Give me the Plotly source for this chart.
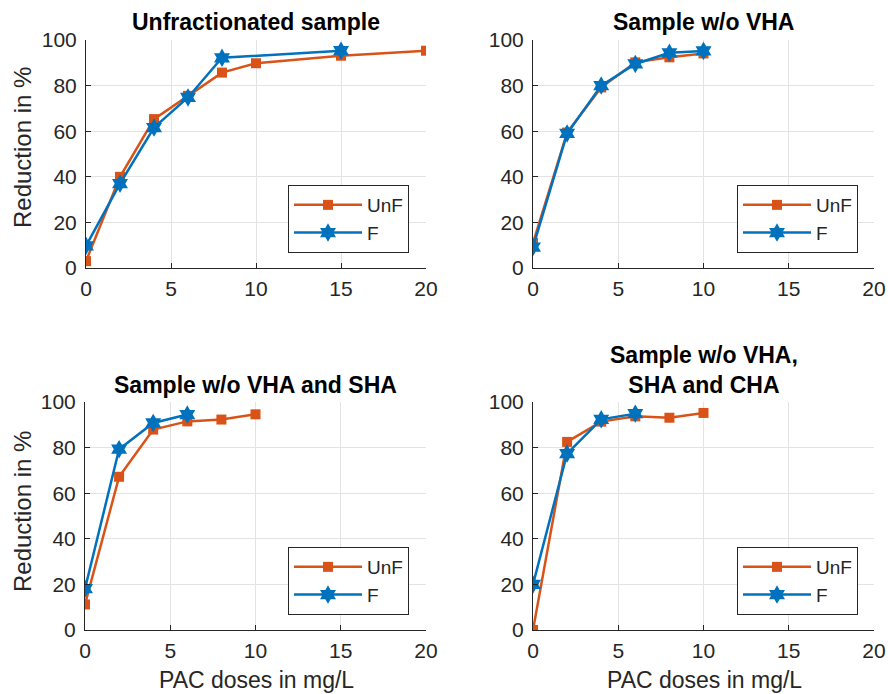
import plotly.graph_objects as go

# ---- data ----
titles = ["Unfractionated sample", "Sample w/o VHA",
          "Sample w/o VHA and SHA", "Sample w/o VHA,<br>SHA and CHA"]

p1_unf_x = [0, 2, 4, 6, 8, 10, 15, 20]
p1_unf_y = [3, 40, 65.3, 75.5, 85.7, 89.8, 93.1, 95.3]
p1_f_x = [0, 2, 4, 6, 8, 15]
p1_f_y = [9.7, 37, 61.6, 74.8, 92.2, 95.3]

p2_unf_x = [0, 2, 4, 6, 8, 10]
p2_unf_y = [11, 59.4, 79.2, 90.2, 92.4, 94.1]
p2_f_x = [0, 2, 4, 6, 8, 10]
p2_f_y = [9.2, 59, 80, 89.5, 94.4, 95.2]

p3_unf_x = [0, 2, 4, 6, 8, 10]
p3_unf_y = [11.2, 67.2, 87.9, 91.5, 92.3, 94.6]
p3_f_x = [0, 2, 4, 6]
p3_f_y = [18.1, 79.3, 90.8, 94.5]

p4_unf_x = [0, 2, 4, 6, 8, 10]
p4_unf_y = [0, 82.5, 91.4, 93.7, 93.1, 95.2]
p4_f_x = [0, 2, 4, 6]
p4_f_y = [20, 77.4, 92.4, 94.9]

x_ticks = [0, 5, 10, 15, 20]
y_ticks = [0, 20, 40, 60, 80, 100]

panels = [
    (p1_unf_x, p1_unf_y, p1_f_x, p1_f_y),
    (p2_unf_x, p2_unf_y, p2_f_x, p2_f_y),
    (p3_unf_x, p3_unf_y, p3_f_x, p3_f_y),
    (p4_unf_x, p4_unf_y, p4_f_x, p4_f_y),
]

ORANGE = "#D95319"
BLUE = "#0072BD"
DARK = "#262626"
GRID = "#e3e3e3"
FONT = "Liberation Sans, Arial, sans-serif"

W, H = 888, 694
# plot areas in pixels (left, right, top, bottom)
boxes = [(86, 426, 40, 268), (533, 874, 40, 268),
         (85, 426, 402, 630), (533, 874, 402, 630)]
legend_boxes = [(409, 253), (858, 253), (409, 615), (858, 615)]

fig = go.Figure()
layout = dict(width=W, height=H, margin=dict(l=0, r=0, t=0, b=0, autoexpand=False),
              paper_bgcolor="white", plot_bgcolor="white",
              font=dict(family=FONT, color=DARK), annotations=[])

for i, (ux, uy, fx, fy) in enumerate(panels):
    n = "" if i == 0 else str(i + 1)
    lg = "legend" + n
    fig.add_trace(go.Scatter(x=ux, y=uy, name="UnF", mode="lines+markers",
                             line=dict(color=ORANGE, width=2.5),
                             marker=dict(symbol="square", size=10, color=ORANGE),
                             xaxis="x" + n, yaxis="y" + n, legend=lg))
    fig.add_trace(go.Scatter(x=fx, y=fy, name="F", mode="lines+markers",
                             line=dict(color=BLUE, width=2.5),
                             marker=dict(symbol="hexagram", size=14, color=BLUE),
                             xaxis="x" + n, yaxis="y" + n, legend=lg))
    l, r, t, b = boxes[i]
    axcommon = dict(showgrid=True, gridcolor=GRID, gridwidth=1,
                    showline=True, linecolor=DARK, linewidth=1,
                    ticks="inside", ticklen=5, tickcolor=DARK,
                    tickfont=dict(size=21, color=DARK, family=FONT),
                    zeroline=False, mirror=False, automargin=False)
    layout["xaxis" + n] = dict(domain=[l / W, r / W], range=[0, 20],
                               tickvals=x_ticks, anchor="y" + n,
                               ticklabelstandoff=2, **axcommon)
    layout["yaxis" + n] = dict(domain=[1 - b / H, 1 - t / H], range=[0, 100],
                               tickvals=y_ticks, anchor="x" + n,
                               ticklabelstandoff=4, **axcommon)
    lx, ly = legend_boxes[i]
    layout[lg] = dict(x=lx / W, y=1 - ly / H, xanchor="right", yanchor="bottom",
                      bgcolor="white", bordercolor=DARK, borderwidth=1,
                      font=dict(size=19, color=DARK, family=FONT),
                      itemwidth=68, tracegroupgap=0)
    # title
    cx = (l + r) / 2
    if i < 2:
        ty = 22
    elif i == 2:
        ty = 385
    else:
        ty = 370
    layout["annotations"].append(dict(
        text="<b>" + titles[i] + "</b>", x=cx / W, y=1 - ty / H,
        xref="paper", yref="paper", xanchor="center", yanchor="middle",
        showarrow=False, font=dict(size=23, color="black", family=FONT)))

# axis titles
for (cy) in [148, 512]:
    layout["annotations"].append(dict(
        text="Reduction in %", x=23 / W, y=1 - cy / H, xref="paper", yref="paper",
        xanchor="center", yanchor="middle", textangle=-90, showarrow=False,
        font=dict(size=24, color=DARK, family=FONT)))
for cx in [256, 704]:
    layout["annotations"].append(dict(
        text="PAC doses in mg/L", x=cx / W, y=1 - 680 / H, xref="paper", yref="paper",
        xanchor="center", yanchor="middle", showarrow=False,
        font=dict(size=23, color=DARK, family=FONT)))

fig.update_layout(**layout)
fig.write_html("out.html", config={"displayModeBar": False},
               post_script="document.body.style.margin='0';document.body.style.overflow='hidden';")
